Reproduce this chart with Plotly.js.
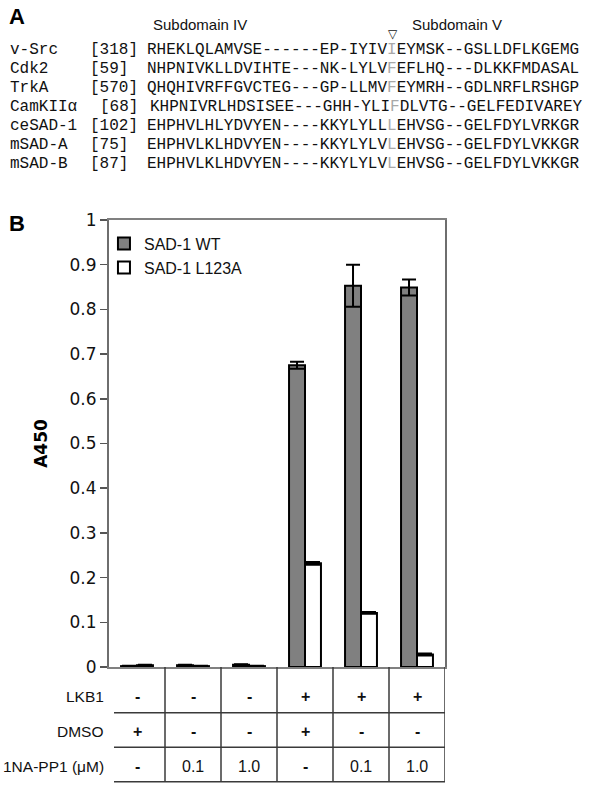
<!DOCTYPE html>
<html><head><meta charset="utf-8">
<script src="https://cdn.plot.ly/plotly-3.0.1.min.js"></script>
<style>html,body{margin:0;padding:0;background:#fff}#chart{width:600px;height:805px}</style>
</head><body><div id="chart"></div>
<script>
// ---------- data ----------
const conditions = ['c1','c2','c3','c4','c5','c6'];
const seriesNames = ['SAD-1 WT','SAD-1 L123A'];
const wtValues  = [0.002, 0.004, 0.005, 0.675, 0.853, 0.849];
const wtErrors  = [0.001, 0.001, 0.001, 0.008, 0.047, 0.018];
const mutValues = [0.004, 0.002, 0.002, 0.232, 0.121, 0.028];
const mutErrors = [0.001, 0.001, 0.001, 0.003, 0.002, 0.002];
const yTickVals = [0,0.1,0.2,0.3,0.4,0.5,0.6,0.7,0.8,0.9,1];
const yTickText = ['0','0.1','0.2','0.3','0.4','0.5','0.6','0.7','0.8','0.9','1'];
const yTitle = 'A450';

const rowLabels    = ['LKB1','DMSO','1NA-PP1 (\u03bcM)'];
const lkb1Row      = ['-','-','-','+','+','+'];
const dmsoRow      = ['+','-','-','+','-','-'];
const inhibitorRow = ['-','0.1','1.0','-','0.1','1.0'];

const kinaseNames  = ['v-Src','Cdk2','TrkA','CamKII\u03b1','ceSAD-1','mSAD-A','mSAD-B'];
const kinaseStarts = ['[318]','[59]','[570]','[68]','[102]','[75]','[87]'];
const seqBefore = ['RHEKLQLAMVSE------EP-IYIV','NHPNIVKLLDVIHTE---NK-LYLV','QHQHIVRFFGVCTEG---GP-LLMV',
                   'KHPNIVRLHDSISEE---GHH-YLI','EHPHVLHLYDVYEN----KKYLYLL','EHPHVLKLHDVYEN----KKYLYLV',
                   'EHPHVLKLHDVYEN----KKYLYLV'];
const seqSite   = ['I','F','F','F','L','L','L'];
const seqAfter  = ['EYMSK--GSLLDFLKGEMG','EFLHQ---DLKKFMDASAL','EYMRH--GDLNRFLRSHGP','DLVTG--GELFEDIVAREY',
                   'EHVSG--GELFDYLVRKGR','EHVSG--GELFDYLVKKGR','EHVSG--GELFDYLVKKGR'];
const subdomainLabels = ['Subdomain IV','Subdomain V'];
const panelLabels = ['A','B'];

// ---------- geometry ----------
const PL=109, PR=445, PT=220, PB=667;
const px = x => (x-PL)/(PR-PL);
const py = y => (PB-y)/(PB-PT);

const traces = [
  {type:'bar', name:seriesNames[0], x:conditions, y:wtValues,
   marker:{color:'#808080', line:{color:'#000', width:2}},
   error_y:{type:'data', array:wtErrors, visible:true, color:'#000', thickness:2, width:7}},
  {type:'bar', name:seriesNames[1], x:conditions, y:mutValues,
   marker:{color:'#ffffff', line:{color:'#000', width:2}},
   error_y:{type:'data', array:mutErrors, visible:true, color:'#000', thickness:2, width:7}}
];

const ann = [];
const shapes = [];
const sans = 'Liberation Sans, Arial, sans-serif';
const mono = 'Liberation Mono, Courier New, monospace';

// panel A
ann.push({xref:'paper',yref:'paper',x:px(7),y:py(16),xanchor:'left',yanchor:'middle',showarrow:false,
  text:'<b>'+panelLabels[0]+'</b>',font:{family:sans,size:22,color:'#000'}});
ann.push({xref:'paper',yref:'paper',x:px(200),y:py(24),xanchor:'center',yanchor:'middle',showarrow:false,
  text:subdomainLabels[0],font:{family:sans,size:15,color:'#111'}});
ann.push({xref:'paper',yref:'paper',x:px(457),y:py(24),xanchor:'center',yanchor:'middle',showarrow:false,
  text:subdomainLabels[1],font:{family:sans,size:15,color:'#111'}});
ann.push({xref:'paper',yref:'paper',x:px(393),y:py(34),xanchor:'center',yanchor:'middle',showarrow:false,
  text:'\u25bd',font:{family:'DejaVu Sans',size:12,color:'#111'}});
const rowY0 = 50, rowStep = 19;
kinaseNames.forEach((n,i)=>{
  const y = py(rowY0 + i*rowStep);
  const shift = (n.indexOf('\u03b1')>=0) ? 1 : 0;
  ann.push({xref:'paper',yref:'paper',x:px(8),y:y,xanchor:'left',yanchor:'middle',showarrow:false,
    text:n,font:{family:mono,size:16,color:'#111'}});
  ann.push({xref:'paper',yref:'paper',x:px(shift?98:88),y:y,xanchor:'left',yanchor:'middle',showarrow:false,
    text:kinaseStarts[i],font:{family:mono,size:16,color:'#111'}});
  ann.push({xref:'paper',yref:'paper',x:px(shift?147.5:145),y:y,xanchor:'left',yanchor:'middle',showarrow:false,
    text:seqBefore[i]+'<span style="color:#a8a8a8">'+seqSite[i]+'</span>'+seqAfter[i],
    font:{family:mono,size:16,color:'#111'}});
});

// panel B label
ann.push({xref:'paper',yref:'paper',x:px(7),y:py(223),xanchor:'left',yanchor:'middle',showarrow:false,
  text:'<b>'+panelLabels[1]+'</b>',font:{family:sans,size:22,color:'#000'}});

// condition table
const rowLines = [712.7, 747.3, 781.7];
const rowText  = [696, 731.5, 766.5];
const tableRows = [lkb1Row, dmsoRow, inhibitorRow];
rowLines.forEach(yl=>{
  shapes.push({type:'line',xref:'paper',yref:'paper',x0:px(114),x1:1,y0:py(yl),y1:py(yl),
    line:{color:'#3a3a3a',width:1.5}});
});
for(let k=0;k<conditions.length;k++){
  shapes.push({type:'line',xref:'x',yref:'paper',x0:k+0.5,x1:k+0.5,y0:0,y1:py(rowLines[2]),
    line:{color:'#3a3a3a',width:1.5}});
}
tableRows.forEach((row,r)=>{
  ann.push({xref:'paper',yref:'paper',x:px(106),y:py(rowText[r]),xanchor:'right',yanchor:'middle',showarrow:false,
    text:rowLabels[r],font:{family:sans,size:15.5,color:'#111'}});
  row.forEach((v,k)=>{
    const sym = (v==='+'||v==='-');
    ann.push({xref:'x',yref:'paper',x:k,y:py(rowText[r]),xanchor:'center',yanchor:'middle',showarrow:false,
      text: sym ? '<b>'+v+'</b>' : v, font:{family:sans,size:16,color:'#111'}});
  });
});

const layout = {
  width:600, height:805,
  margin:{l:PL, r:600-PR, t:PT, b:805-PB, pad:0},
  paper_bgcolor:'#fff', plot_bgcolor:'#fff',
  barmode:'group', bargap:0.43, bargroupgap:0,
  showlegend:true,
  legend:{x:-0.015, y:0.985, xanchor:'left', yanchor:'top', bgcolor:'rgba(0,0,0,0)',
    font:{family:sans,size:16,color:'#111'}, tracegroupgap:0},
  xaxis:{type:'category', range:[-0.5,5.5], showticklabels:false, ticks:'', showgrid:false, zeroline:false,
    showline:true, mirror:true, linecolor:'#808080', linewidth:2, fixedrange:true},
  yaxis:{range:[0,1], tickvals:yTickVals, ticktext:yTickText, ticks:'outside', ticklen:7, tickwidth:1.5,
    tickcolor:'#555', showgrid:false, zeroline:false, showline:true, mirror:true, linecolor:'#6e6e6e', linewidth:2,
    tickfont:{family:'DejaVu Sans, Verdana, sans-serif', size:17, color:'#111'},
    title:{text:'<b>'+yTitle+'</b>', font:{family:'DejaVu Sans, Verdana, sans-serif', size:17, color:'#000'}, standoff:18}},
  shapes:shapes, annotations:ann
};
Plotly.newPlot('chart', traces, layout, {displayModeBar:false, staticPlot:true});
</script></body></html>
